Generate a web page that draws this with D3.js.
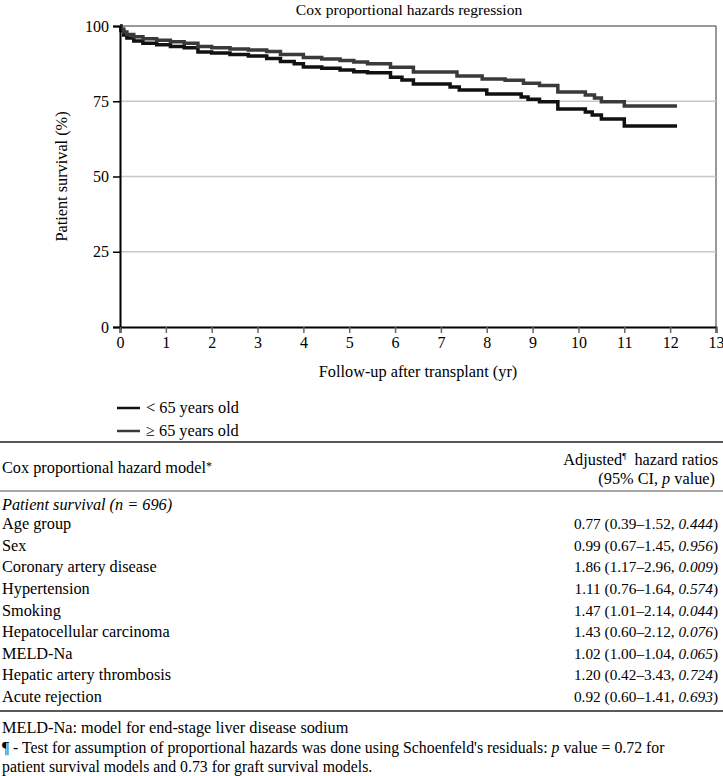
<!DOCTYPE html>
<html>
<head>
<meta charset="utf-8">
<script src="https://cdn.jsdelivr.net/npm/d3@7"></script>
<style>
  body { margin: 0; background: #fff; }
  svg { display: block; font-family: "Liberation Serif", "DejaVu Serif", serif; }
</style>
</head>
<body>
<svg id="chart" width="723" height="776"></svg>
<script>
// Kaplan-Meier style steps: [years, survival %]
const under65 = [
  [0, 100], [0.02, 98.5], [0.08, 97], [0.15, 96], [0.3, 95], [0.5, 94.3],
  [0.8, 93.8], [1.1, 93.2], [1.4, 92.8], [1.7, 91.4], [2.0, 91.0], [2.4, 90.5],
  [2.8, 90.0], [3.2, 89.2], [3.5, 88.2], [3.8, 87.5], [4.0, 86.4], [4.4, 86.0],
  [4.8, 85.4], [5.1, 84.8], [5.4, 84.5], [5.9, 83.0], [6.15, 82.1], [6.4, 80.7],
  [7.2, 79.7], [7.4, 78.7], [8.0, 77.4], [8.75, 76.4], [8.9, 75.7], [9.15, 74.8],
  [9.55, 72.4], [10.15, 71.4], [10.3, 70.4], [10.5, 69.1], [11.0, 66.8], [12.15, 66.8]
];
const over65 = [
  [0, 100], [0.02, 99], [0.08, 98], [0.15, 97.2], [0.3, 96.4], [0.5, 95.8],
  [0.8, 95.3], [1.1, 94.8], [1.4, 94.3], [1.7, 93.2], [2.0, 92.8], [2.4, 92.4],
  [2.8, 92.0], [3.2, 91.5], [3.5, 90.5], [4.0, 89.5], [4.4, 89.0], [4.8, 88.5],
  [5.1, 88.0], [5.4, 87.5], [5.9, 86.3], [6.4, 84.7], [7.35, 83.4], [7.9, 82.4],
  [8.4, 82.0], [8.8, 81.0], [9.15, 80.2], [9.55, 78.1], [10.15, 77.1], [10.35, 76.1],
  [10.5, 74.8], [11.0, 73.4], [12.15, 73.4]
];
const seriesNames = ["< 65 years old", "\u2265 65 years old"];
const seriesColors = ["#111111", "#3a3a3a"];

const xTicks = d3.range(0, 14);
const yTicks = [0, 25, 50, 75, 100];

// table contents
const rowLabels = ["Age group", "Sex", "Coronary artery disease", "Hypertension", "Smoking",
  "Hepatocellular carcinoma", "MELD-Na", "Hepatic artery thrombosis", "Acute rejection"];
const hazardRatios = ["0.77", "0.99", "1.86", "1.11", "1.47", "1.43", "1.02", "1.20", "0.92"];
const ciRanges = ["0.39\u20131.52", "0.67\u20131.45", "1.17\u20132.96", "0.76\u20131.64", "1.01\u20132.14",
  "0.60\u20132.12", "1.00\u20131.04", "0.42\u20133.43", "0.60\u20131.41"];
const pValues = ["0.444", "0.956", "0.009", "0.574", "0.044", "0.076", "0.065", "0.724", "0.693"];

(function () {
  const svg = d3.select("#chart");
  const fs = 16.3;    // prose text
  const fsNum = 15.3; // numbers in table
  const fsNote = 15.8;

  const pLeft = 120, pRight = 716, pTop = 26, pBottom = 327;
  const x = d3.scaleLinear().domain([0, 13]).range([pLeft, pRight]);
  const y = d3.scaleLinear().domain([0, 100]).range([pBottom, pTop]);

  // title
  svg.append("text").attr("x", 409).attr("y", 15).attr("text-anchor", "middle")
    .attr("font-size", 15.6).text("Cox proportional hazards regression");

  // frame top/right
  svg.append("path")
    .attr("d", `M${pLeft},${pTop}H${pRight}V${pBottom}`)
    .attr("fill", "none").attr("stroke", "#333").attr("stroke-width", 1);

  // gridlines
  svg.append("g").selectAll("line").data([25, 50, 75]).join("line")
    .attr("x1", pLeft).attr("x2", pRight)
    .attr("y1", d => y(d)).attr("y2", d => y(d))
    .attr("stroke", "#c8c8c8").attr("stroke-width", 1.5);

  // curves
  const line = d3.line().x(d => x(d[0])).y(d => y(d[1])).curve(d3.curveStepAfter);
  [under65, over65].forEach((s, i) => {
    svg.append("path").datum(s).attr("d", line)
      .attr("fill", "none").attr("stroke", seriesColors[i])
      .attr("stroke-width", 3.5).attr("stroke-linejoin", "miter");
  });

  // y axis
  const gy = svg.append("g").attr("transform", `translate(${pLeft},0)`)
    .call(d3.axisLeft(y).tickValues(yTicks).tickSize(7).tickPadding(4));
  gy.select(".domain").attr("stroke", "#000").attr("stroke-width", 2);
  gy.selectAll(".tick line").attr("stroke", "#000").attr("stroke-width", 1.5);
  gy.selectAll("text").attr("font-size", 16).attr("font-family", "Liberation Serif").attr("fill", "#000");

  // x axis
  const gx = svg.append("g").attr("transform", `translate(0,${pBottom})`)
    .call(d3.axisBottom(x).tickValues(xTicks).tickSize(6).tickPadding(4));
  gx.select(".domain").attr("stroke", "#000").attr("stroke-width", 2);
  gx.selectAll(".tick line").attr("stroke", "#666").attr("stroke-width", 1.5);
  gx.selectAll("text").attr("font-size", 16).attr("font-family", "Liberation Serif").attr("fill", "#000");

  // axis labels
  svg.append("text").attr("x", (pLeft + pRight) / 2).attr("y", 377).attr("text-anchor", "middle")
    .attr("font-size", fs).text("Follow-up after transplant (yr)");
  svg.append("text").attr("transform", `translate(67,${(pTop + pBottom) / 2}) rotate(-90)`)
    .attr("text-anchor", "middle").attr("font-size", fs).text("Patient survival (%)");

  // legend
  const lg = svg.append("g").selectAll("g").data(seriesNames).join("g")
    .attr("transform", (d, i) => `translate(117,${408 + i * 23})`);
  lg.append("line").attr("x1", 0).attr("x2", 23).attr("y1", 0).attr("y2", 0)
    .attr("stroke", (d, i) => seriesColors[i]).attr("stroke-width", 2.5);
  lg.append("text").attr("x", 29).attr("y", 5).attr("font-size", fs).text(d => d);

  // table
  const tx0 = 2, tx1 = 718;
  const rule = (yy, w) => svg.append("line").attr("x1", 0).attr("x2", 723)
    .attr("y1", yy).attr("y2", yy).attr("stroke", "#222").attr("stroke-width", w);
  rule(442, 1.6);
  rule(491, 0.8);
  rule(711, 1.6);

  const hdr = svg.append("text").attr("x", tx0).attr("y", 473).attr("font-size", fs);
  hdr.append("tspan").text("Cox proportional hazard model");
  hdr.append("tspan").attr("dy", -3).attr("font-size", 12).text("*");

  const h1 = svg.append("text").attr("x", tx1).attr("y", 465).attr("text-anchor", "end").attr("font-size", fs);
  h1.append("tspan").text("Adjusted");
  h1.append("tspan").attr("dy", -6).attr("font-size", 9).text("\u00b6");
  h1.append("tspan").attr("dy", 6).text("\u2002hazard ratios");
  const h2 = svg.append("text").attr("x", 715).attr("y", 484).attr("text-anchor", "end").attr("font-size", fs);
  h2.append("tspan").text("(95% CI, ");
  h2.append("tspan").attr("font-style", "italic").text("p");
  h2.append("tspan").text(" value)");

  const sub = svg.append("text").attr("x", tx0).attr("y", 510).attr("font-size", fs).attr("font-style", "italic");
  sub.append("tspan").text("Patient survival (");
  sub.append("tspan").text("n");
  sub.append("tspan").text(" = 696)");

  const rowY = d3.scalePoint().domain(rowLabels).range([529, 702]);
  const rows = svg.append("g").selectAll("g").data(rowLabels).join("g");
  rows.append("text").attr("x", tx0).attr("y", d => rowY(d)).attr("font-size", fs).text(d => d);
  const vt = rows.append("text").attr("x", tx1).attr("y", d => rowY(d))
    .attr("text-anchor", "end").attr("font-size", fsNum);
  vt.append("tspan").text((d, i) => `${hazardRatios[i]} (${ciRanges[i]}, `);
  vt.append("tspan").attr("font-style", "italic").text((d, i) => pValues[i]);
  vt.append("tspan").text(")");

  // footnotes
  svg.append("text").attr("x", tx0).attr("y", 733).attr("font-size", fs)
    .text("MELD-Na: model for end-stage liver disease sodium");
  const f2 = svg.append("text").attr("x", tx0).attr("y", 753).attr("font-size", fsNote);
  f2.append("tspan").text("\u00b6 - Test for assumption of proportional hazards was done using Schoenfeld's residuals: ");
  f2.append("tspan").attr("font-style", "italic").text("p");
  f2.append("tspan").text(" value = 0.72 for");
  svg.append("text").attr("x", tx0).attr("y", 771.5).attr("font-size", fsNote)
    .text("patient survival models and 0.73 for graft survival models.");
})();
</script>
</body>
</html>
